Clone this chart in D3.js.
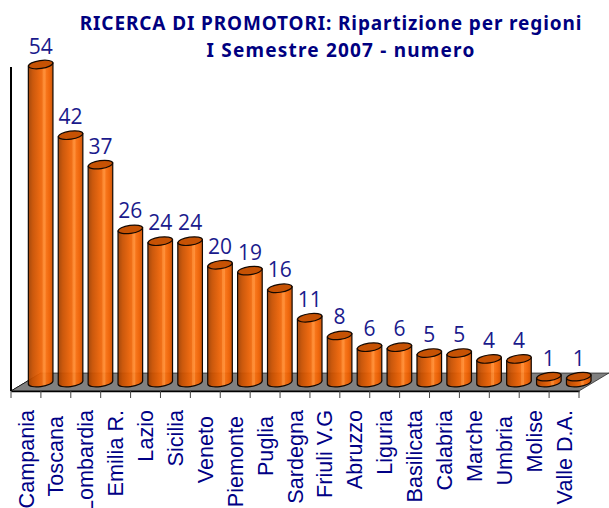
<!DOCTYPE html>
<html lang="en">
<head>
<meta charset="utf-8">
<title>Ricerca di promotori</title>
<script src="https://cdn.jsdelivr.net/npm/d3@7"></script>
<style>
 html, body { margin: 0; padding: 0; background: #fff; overflow: hidden; }
 svg { display: block; }
</style>
</head>
<body>
<script type="text/javascript">

 //Some names carry a trailing space in the original, it shifts the label down
 var regions = ["Campania", "Toscana ", "Lombardia", "Emilia R.", "Lazio", "Sicilia", "Veneto ", "Piemonte ", "Puglia ",
                "Sardegna", "Friuli V.G", "Abruzzo", "Liguria", "Basilicata", "Calabria", "Marche", "Umbria ", "Molise", "Valle D.A."];
 var values = [54, 42, 37, 26, 24, 24, 20, 19, 16, 11, 8, 6, 6, 5, 5, 4, 4, 1, 1];
 var titleFirst = "RICERCA DI PROMOTORI: Ripartizione per regioni";
 var titleSecond = "I Semestre 2007 - numero";

 var width = 609, height = 508;

 //Front edge of the floor
 var left = 11, right = 579, floorFront = 391;
 //Depth of the fake 3d floor
 var depthX = 30, depthY = 18;

 var svg = d3.select("body").append("svg")
     .attr("width", width)
     .attr("height", height);

 var xScale = d3.scaleBand().domain(regions).range([left, right]);
 var yScale = d3.scaleLinear().domain([0, 54]).range([382.5, 64.5]);

 var barHalf = 12.3;
 var ry = 4;

 var defs = svg.append("defs");
 var grad = defs.append("linearGradient").attr("id", "cyl");
 [[0, "#a04000"], [0.18, "#c85000"], [0.45, "#e86004"], [0.56, "#f0680c"], [0.6, "#fb8428"], [0.68, "#ff8a30"], [0.72, "#f87010"], [0.86, "#ee5f00"], [1, "#c85000"]]
     .forEach(function (s) {
         grad.append("stop").attr("offset", s[0]).attr("stop-color", s[1]);
     });

 //Wall
 svg.append("path")
     .attr("d", d3.line()([[left, floorFront], [left + depthX, floorFront - depthY]]))
     .attr("stroke", "#000").attr("stroke-width", 1).attr("fill", "none");

 //Floor
 svg.append("path")
     .attr("d", d3.line()([[left, floorFront], [right, floorFront], [right + depthX, floorFront - depthY], [left + depthX, floorFront - depthY]]) + "Z")
     .attr("fill", "#808080")
     .attr("stroke", "#000")
     .attr("stroke-width", 0.6);

 svg.append("line")
     .attr("x1", left).attr("x2", left)
     .attr("y1", 67).attr("y2", floorFront)
     .attr("stroke", "#000").attr("stroke-width", 2);

 //Axis with the labels turned by hand
 var axis = d3.axisBottom(xScale).tickSize(0).tickPadding(0);
 var axisG = svg.append("g")
     .attr("transform", "translate(0," + floorFront + ")")
     .call(axis);
 axisG.select(".domain").attr("stroke", "#000").attr("stroke-width", 1.5);
 axisG.selectAll(".tick text")
     .attr("transform", "translate(0,19) rotate(-90)")
     .attr("x", 0).attr("y", 0).attr("dy", "0.35em")
     .attr("text-anchor", "end")
     .style("white-space", "pre")
     .style("font-family", "'Liberation Sans', Arial, sans-serif")
     .style("font-size", "21.6px")
     .style("fill", "#000085");

 //Tick marks sit on the band edges
 svg.selectAll("line.tickmark")
     .data(d3.range(regions.length + 1))
     .enter()
     .append("line")
     .attr("class", "tickmark")
     .attr("x1", function (i) { return left + i * xScale.step(); })
     .attr("x2", function (i) { return left + i * xScale.step(); })
     .attr("y1", floorFront)
     .attr("y2", floorFront + 7)
     .attr("stroke", "#444")
     .attr("stroke-width", 1);

 function cx(d) {
     return xScale(d.region) + depthX / 2 + xScale.bandwidth() / 2 - 0.3;
 }

 var data = regions.map(function (r, i) { return { region: r, value: values[i] }; });

 var bars = svg.selectAll("g.bar")
     .data(data)
     .enter()
     .append("g")
     .attr("class", "bar")
     .attr("transform", function (d) { return "translate(" + cx(d) + ",0)"; });

 //Cylinder side, both ellipses tilted a little
 bars.append("path")
     .attr("d", function (d) {
         var top = yScale(d.value), bot = yScale(0);
         return "M" + (-barHalf) + "," + (top + 1.6) +
             "L" + (-barHalf) + "," + (bot + 1.6) +
             "A" + barHalf + "," + ry + " -8 0 0 " + barHalf + "," + (bot - 1.6) +
             "L" + barHalf + "," + (top - 1.6) + "Z";
     })
     .attr("fill", "url(#cyl)")
     .attr("fill-opacity", 0.95)
     .attr("stroke", "#140800")
     .attr("stroke-width", 1.2);

 bars.append("ellipse")
     .attr("cx", 0)
     .attr("cy", function (d) { return yScale(d.value); })
     .attr("rx", barHalf)
     .attr("ry", ry)
     .attr("transform", function (d) { return "rotate(-8 0 " + yScale(d.value) + ")"; })
     .attr("fill", "#c65204")
     .attr("stroke", "#140800")
     .attr("stroke-width", 1.2);

 bars.append("text")
     .attr("x", 0)
     .attr("y", function (d) { return yScale(d.value) - 11; })
     .attr("text-anchor", "middle")
     .style("font-family", "'Open Sans', 'Noto Sans', sans-serif")
     .style("font-size", "21px")
     .style("fill", "#1a1a8c")
     .text(function (d) { return d.value; });

 function addTitle(text, x, y, spacing) {
     svg.append("text")
         .attr("x", x)
         .attr("y", y)
         .attr("text-anchor", "middle")
         .style("font-family", "'Noto Sans', sans-serif")
         .style("font-weight", "bold")
         .style("font-size", "19px")
         .style("letter-spacing", spacing + "px")
         .style("fill", "#000080")
         .text(text);
 }
 addTitle(titleFirst, 331, 30, 0.87);
 addTitle(titleSecond, 341, 57, 1.2);

</script>
</body>
</html>
